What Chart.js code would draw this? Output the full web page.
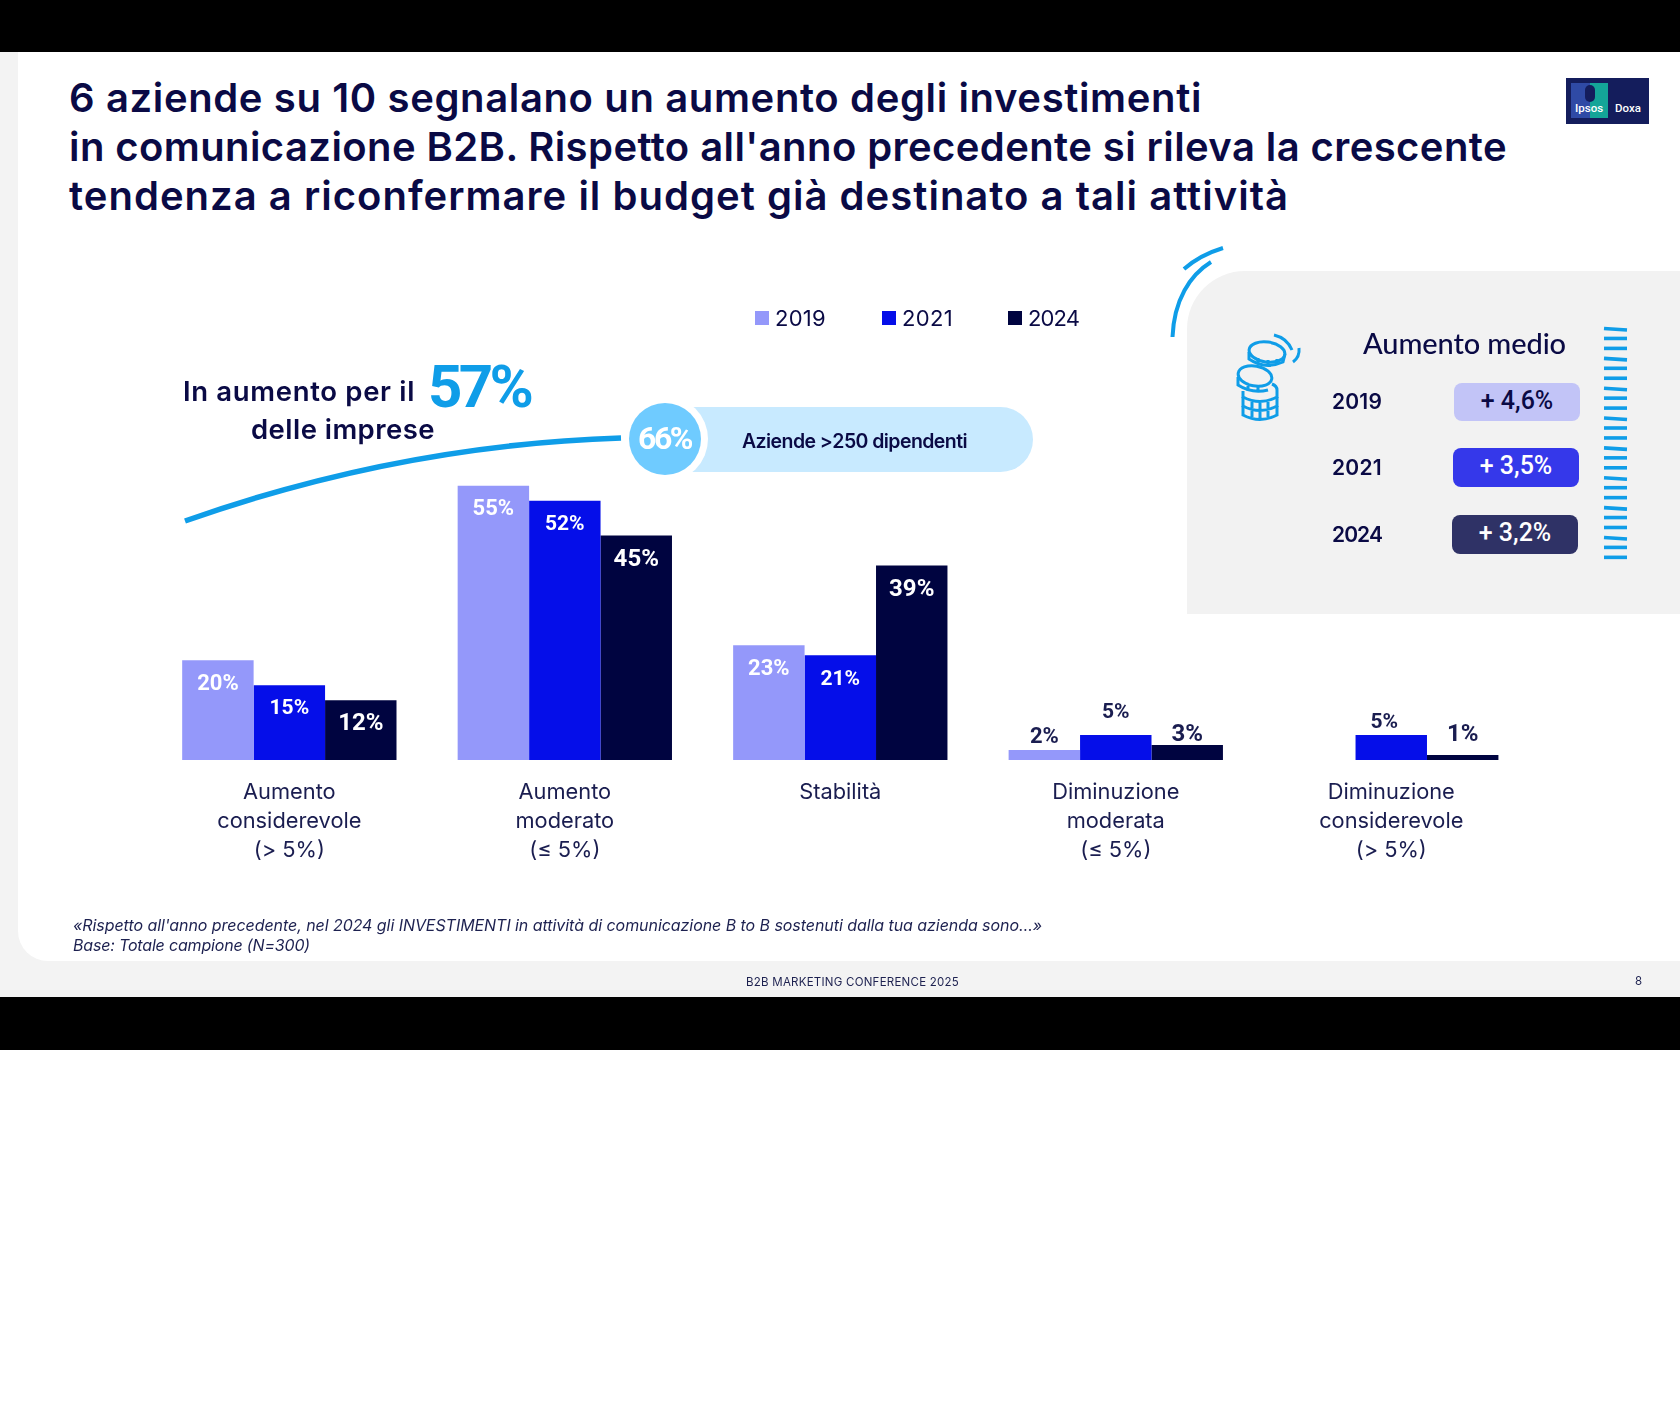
<!DOCTYPE html>
<html lang="it">
<head>
<meta charset="utf-8">
<title>Investimenti in comunicazione B2B</title>
<script src="https://cdn.jsdelivr.net/npm/chart.js"></script>
<style>
  html, body { margin: 0; padding: 0; background: #fff; }
  #page { position: relative; width: 1680px; height: 1422px; overflow: hidden; font-family: Inter, sans-serif; color: #0a0a45; }
  .box { position: absolute; }
  .t { position: absolute; white-space: nowrap; line-height: 1; transform: translateY(-50%); }
  .title { font-size: 40px; font-weight: 600; }
  .note { font-size: 16px; font-style: italic; color: #1d2150; }
  .hand { font-family: Roboto, sans-serif; font-weight: 700; }
  #legend i { position: absolute; width: 14px; height: 14px; top: 311px; }
  .avg-pill { position: absolute; border-radius: 8px; display: flex; align-items: center; justify-content: center; font-family: Roboto, sans-serif; font-weight: 500; font-size: 25px; padding-bottom: 4px; box-sizing: border-box; }
  svg, canvas { position: absolute; left: 0; }
</style>
</head>
<body>
<div id="page">
  <div class="box" style="left:0;top:0;width:1680px;height:1050px;background:#000"></div>
  <div class="box" style="left:0;top:52px;width:1680px;height:945px;background:#f3f3f3"></div>
  <div class="box" style="left:18px;top:52px;width:1662px;height:909px;background:#fff;border-bottom-left-radius:30px"></div>

  <div class="t title" data-w="1133" style="left:69px;top:98px">6 aziende su 10 segnalano un aumento degli investimenti</div>
  <div class="t title" data-w="1438" style="left:69px;top:147px">in comunicazione B2B. Rispetto all'anno precedente si rileva la crescente</div>
  <div class="t title" data-w="1220" style="left:69px;top:196px">tendenza a riconfermare il budget già destinato a tali attività</div>

  <!-- logo -->
  <div class="box" style="left:1566px;top:78px;width:83px;height:46px;background:#141d5c"></div>
  <div class="box" style="left:1571px;top:83px;width:19px;height:35px;background:#2f4aa5"></div>
  <div class="box" style="left:1590px;top:83px;width:18px;height:35px;background:#14a598"></div>
  <div class="box" style="left:1585px;top:85px;width:10px;height:17px;border-radius:5px;background:#141d5c"></div>
  <div class="t hand" style="left:1575px;top:109px;font-size:11.5px;color:#fff;font-weight:500">Ipsos</div>
  <div class="t hand" style="left:1615px;top:109px;font-size:11.5px;color:#fff;font-weight:500">Doxa</div>

  <!-- side panel -->
  <div class="box" style="left:1187px;top:271px;width:493px;height:343px;background:#f2f2f2;border-top-left-radius:58px"></div>

  <!-- pill -->
  <div class="box" style="left:660px;top:407px;width:373px;height:65px;background:#c8eaff;border-radius:33px"></div>
  <div class="box" style="left:622px;top:396px;width:86px;height:86px;background:#fff;border-radius:50%"></div>
  <div class="box" style="left:629px;top:403px;width:72px;height:72px;background:#6fcbff;border-radius:50%"></div>

  <canvas id="chart" width="1680" height="440" style="top:430px"></canvas>
  <svg id="decor" width="1680" height="1050" style="top:0" fill="none" stroke="#0f9de8" stroke-linecap="butt">
    <path d="M185 521 Q400 445 621 438" stroke-width="5.5"/>
    <path d="M1172.5 337 C1174 300 1190 275 1211 262" stroke-width="4"/>
    <path d="M1184 269 Q1200 255 1223 248" stroke-width="4"/>
    <g stroke-width="3">
      <ellipse cx="1267" cy="352" rx="18" ry="10" transform="rotate(8 1267 352)"/>
      <path d="M1249 352 v7 q16 11 34 3 l2 -8"/>
      <path d="M1258 358 v6 M1268 360 v6 M1277 359 v6"/>
      <ellipse cx="1255" cy="376" rx="17" ry="10" transform="rotate(10 1255 376)"/>
      <path d="M1238 377 v8 q14 9 30 5 M1248 386 v5 M1258 387 v5"/>
      <path d="M1272 384 q5 2 5 6 v7 q-17 9 -34 0 v-6"/>
      <path d="M1277 397 v9 q-17 9 -34 0 v-9 M1252 402 v6 M1260 403 v6 M1268 402 v6"/>
      <path d="M1277 406 v9 q-17 9 -34 0 v-9 M1252 411 v6 M1260 412 v6 M1268 411 v6"/>
      <path d="M1274 335 q13 3 18 15 M1299 348 q1 9 -6 14"/>
    </g>
  </svg>

  <div class="t" data-w="232" style="left:183px;top:392px;font-size:27.5px;font-weight:600">In aumento per il</div>
  <div class="t" data-w="184" style="left:251px;top:430px;font-size:27.5px;font-weight:600">delle imprese</div>
  <div class="t hand" data-w="102" style="left:428px;top:387px;font-size:60px;color:#0f9de8">57%</div>
  <div class="t hand" data-w="53" style="left:638px;top:438px;font-size:32px;color:#fff">66%</div>
  <div class="t" data-w="225" style="left:742px;top:442px;font-size:19.5px;font-weight:600">Aziende &gt;250 dipendenti</div>

  <div id="legend"></div>

  <div class="t" data-w="203" style="left:1363px;top:342px;font-family:Lato,sans-serif;font-size:29px;font-weight:500">Aumento medio</div>
  <div id="avg"></div>

  <div class="t note" data-w="969" style="left:73px;top:925px">«Rispetto all'anno precedente, nel 2024 gli INVESTIMENTI in attività di comunicazione B to B sostenuti dalla tua azienda sono…»</div>
  <div class="t note" data-w="237" style="left:73px;top:945px">Base: Totale campione (N=300)</div>
  <div class="t" data-w="213" style="left:746px;top:983px;font-size:11.5px;color:#1d2150">B2B MARKETING CONFERENCE 2025</div>
  <div class="t" style="left:1635px;top:982px;font-size:11.5px;color:#1d2150">8</div>
</div>

<script>
const categories = [
  ['Aumento', 'considerevole', '(> 5%)'],
  ['Aumento', 'moderato', '(≤ 5%)'],
  ['Stabilità'],
  ['Diminuzione', 'moderata', '(≤ 5%)'],
  ['Diminuzione', 'considerevole', '(> 5%)']
];
const years = ['2019', '2021', '2024'];
const values2019 = [20, 55, 23, 2, null];
const values2021 = [15, 52, 21, 5, 5];
const values2024 = [12, 45, 39, 3, 1];
const barColors = ['#9498fa', '#050ee9', '#000440'];

const avgValues = ['+ 4,6%', '+ 3,5%', '+ 3,2%'];

// small bars carry their label above, the lift differs a bit from bar to bar
const outsideLift = { '0,3': 13, '1,3': 22, '2,3': 10, '1,4': 12, '2,4': 20 };
const labelNudge = { '1,4': -7 };
const labelSizes = [22, 21, 24];

const barLabels = {
  id: 'barLabels',
  afterDatasetsDraw(chart) {
    const ctx = chart.ctx;
    ctx.save();
    ctx.textAlign = 'center';
    ctx.textBaseline = 'middle';
    chart.data.datasets.forEach((ds, i) => {
      ctx.font = `700 ${labelSizes[i]}px Roboto, sans-serif`;
      chart.getDatasetMeta(i).data.forEach((bar, j) => {
        if (ds.data[j] === null) return;
        const key = `${i},${j}`;
        const lift = outsideLift[key];
        ctx.fillStyle = lift ? '#1a1d50' : '#fff';
        ctx.fillText(ds.data[j] + '%', bar.x + (labelNudge[key] || 0), lift ? bar.y - lift : bar.y + 24);
      });
    });
    ctx.restore();
  }
};

const chart = new Chart(document.getElementById('chart'), {
  type: 'bar',
  data: {
    labels: categories,
    datasets: [values2019, values2021, values2024].map((data, i) => ({
      label: years[i],
      data,
      backgroundColor: barColors[i],
      borderWidth: 0,
      barPercentage: 1,
      categoryPercentage: 0.778
    }))
  },
  options: {
    responsive: false,
    animation: false,
    layout: { padding: { left: 151.6, right: 151, top: 30.8, bottom: 0 } },
    plugins: { legend: { display: false }, tooltip: { enabled: false } },
    scales: {
      x: {
        afterFit: scale => { scale.height = 110; },
        grid: { display: false },
        border: { display: false },
        ticks: {
          padding: 10,
          color: '#1a1d50',
          autoSkip: false,
          maxRotation: 0,
          font: { family: 'Inter, sans-serif', size: 21.8, lineHeight: 1.33 }
        }
      },
      y: { display: false, min: 0, max: 60 }
    }
  },
  plugins: [barLabels]
});

// legend from the chart's own datasets
const legendX = [755, 882, 1008];
document.getElementById('legend').innerHTML = chart.data.datasets.map((ds, i) =>
  `<i style="left:${legendX[i]}px;background:${ds.backgroundColor}"></i>` +
  `<div class="t" data-w="51" style="left:${legendX[i] + 20}px;top:318px;font-size:22px">${ds.label}</div>`
).join('');

// average increase rows
const avgPills = [
  { left: 1454, top: 383, width: 126, height: 38, bg: '#c2c4f7', fg: '#0a0a45' },
  { left: 1453, top: 448, width: 126, height: 39, bg: '#3538ea', fg: '#fff' },
  { left: 1452, top: 515, width: 126, height: 39, bg: '#2f3266', fg: '#fff' }
];
document.getElementById('avg').innerHTML = years.map((y, i) => {
  const p = avgPills[i];
  return `<div class="t" data-w="50" style="left:1332px;top:${p.top + p.height / 2 - 1}px;font-size:21px;font-weight:600">${y}</div>` +
    `<div class="avg-pill" style="left:${p.left}px;top:${p.top}px;width:${p.width}px;height:${p.height}px;background:${p.bg};color:${p.fg}">${avgValues[i]}</div>`;
}).join('');

// striped bar on the right of the panel
const decor = document.getElementById('decor');
let stripes = '';
for (let k = 0; k < 24; k++) {
  const y = 328.5 + k * 9.95;
  const tilt = k % 3 === 0 ? 1.5 : 0;
  stripes += `<path d="M1604 ${y} L1627 ${y + tilt}" stroke-width="3.6"/>`;
}
decor.insertAdjacentHTML('beforeend', stripes);

// squeeze text to the width it has in the slide
document.querySelectorAll('[data-w]').forEach(el => {
  const w = el.getBoundingClientRect().width;
  el.style.letterSpacing = ((+el.dataset.w - w) / el.textContent.length) + 'px';
});
</script>
</body>
</html>
